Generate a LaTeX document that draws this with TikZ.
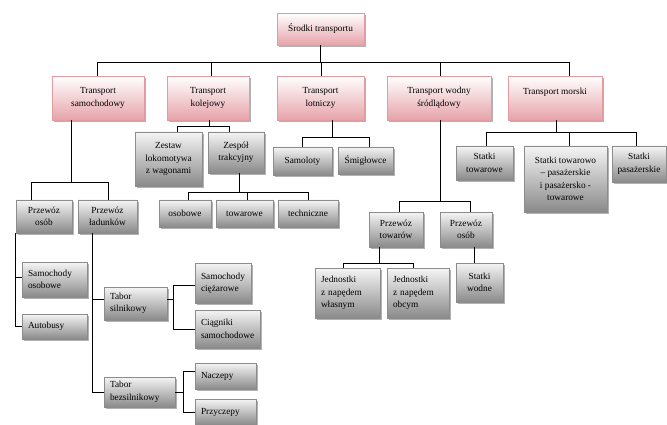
\documentclass[tikz,border=0pt]{standalone}
\usepackage{fontspec}
\setmainfont{Liberation Serif}
\usetikzlibrary{shadows}
\definecolor{pinkB}{HTML}{E6A3A9}
\definecolor{pinkD}{HTML}{E39BA2}
\definecolor{grayB}{HTML}{8A8A8A}
\definecolor{grayD}{HTML}{8C8C8C}
\tikzset{
  box/.style={rectangle, align=center, inner sep=2pt, font=\fontsize{9.3}{12.5}\selectfont,
    drop shadow={shadow xshift=2pt, shadow yshift=-2pt, fill=black, opacity=0.3}},
  pbox/.style={box, draw=pinkD, line width=0.6pt, top color=white, bottom color=pinkB},
  gbox/.style={box, draw=grayD, line width=0.6pt, top color=white!96!black, bottom color=grayB},
  lt/.style={align=left, inner xsep=6pt, text width=#1},
  conn/.style={draw=black, line width=0.7pt}
}
\begin{document}
\begin{tikzpicture}[x=1pt, y=-1pt]
\useasboundingbox (0,0) rectangle (667,425);
% level 0
\node[pbox, minimum width=87, minimum height=32] (root) at (320.5,29) {Środki transportu};
% level 1
\node[pbox, minimum width=92, minimum height=44] (s1) at (98,98) {Transport\\samochodowy};
\node[pbox, minimum width=82, minimum height=44] (s2) at (208,98) {Transport\\kolejowy};
\node[pbox, minimum width=87, minimum height=44] (s3) at (320.5,98) {Transport\\lotniczy};
\node[pbox, minimum width=104, minimum height=44] (s4) at (439,98) {Transport wodny\\śródlądowy};
\node[pbox, minimum width=94, minimum height=44] (s5) at (555,98) {Transport morski\\\phantom{T}};
% kolejowy
\node[gbox, minimum width=67, minimum height=54] (k1) at (168.5,159) {Zestaw\\lokomotywa\\z wagonami};
\node[gbox, minimum width=56, minimum height=41] (k2) at (236,152.5) {Zespół\\trakcyjny};
\node[gbox, minimum width=52, minimum height=27] (k3) at (185,213.5) {osobowe};
\node[gbox, minimum width=57, minimum height=27] (k4) at (244.5,213.5) {towarowe};
\node[gbox, minimum width=60, minimum height=27] (k5) at (308,213.5) {techniczne};
% lotniczy
\node[gbox, minimum width=59, minimum height=28] (l1) at (302.5,161) {Samoloty};
\node[gbox, minimum width=55, minimum height=27] (l2) at (365.5,160.5) {Śmigłowce};
% morski
\node[gbox, minimum width=57, minimum height=34] (m1) at (484.5,163) {Statki\\towarowe};
\node[gbox, minimum width=83, minimum height=66] (m2) at (565.5,179) {Statki towarowo\\– pasażerskie\\i pasażersko -\\towarowe};
\node[gbox, minimum width=54, minimum height=36] (m3) at (639,164) {Statki\\pasażerskie};
% wodny
\node[gbox, minimum width=54, minimum height=35] (w1) at (396,229.5) {Przewóz\\towarów};
\node[gbox, minimum width=52, minimum height=35] (w2) at (466,229.5) {Przewóz\\osób};
\node[gbox, lt=53pt, minimum height=50] (j1) at (347.5,293) {Jednostki\\z napędem\\własnym};
\node[gbox, lt=50pt, minimum height=50] (j2) at (418,293) {Jednostki\\z napędem\\obcym};
\node[gbox, minimum width=47, minimum height=39] (sw) at (479.5,282.5) {Statki\\wodne};
% samochodowy
\node[gbox, minimum width=56, minimum height=33] (p1) at (44,216.5) {Przewóz\\osób};
\node[gbox, minimum width=59, minimum height=33] (p2) at (107.5,216.5) {Przewóz\\ładunków};
\node[gbox, lt=53pt, minimum height=35] (q1) at (54.5,279.5) {Samochody\\osobowe};
\node[gbox, lt=53pt, minimum height=25] (q2) at (54.5,326.5) {Autobusy};
\node[gbox, lt=51pt, minimum height=33] (t1) at (135.5,303.5) {Tabor\\silnikowy};
\node[gbox, lt=59pt, minimum height=30] (t2) at (139.5,392) {Tabor\\bezsilnikowy};
\node[gbox, lt=44pt, minimum height=40] (c1) at (223,283) {Samochody\\ciężarowe};
\node[gbox, lt=53pt, minimum height=38] (c2) at (227.5,329) {Ciągniki\\samochodowe};
\node[gbox, lt=49pt, minimum height=26] (n1) at (225.5,376) {Naczepy};
\node[gbox, lt=49pt, minimum height=26] (n2) at (225.5,412) {Przyczepy};
% connectors level 0 -> 1
\draw[conn] (root.south) -- ++(0,17) -| ([xshift=-1pt]s1.north);
\draw[conn] (root.south) -- ++(0,17) -| ([xshift=3pt]s2.north);
\draw[conn] (root.south) -- ++(0,17) -| ([xshift=0.5pt]s3.north);
\draw[conn] (root.south) -- ++(0,17) -| ([xshift=1pt]s4.north);
\draw[conn] (root.south) -- ++(0,17) -| ([xshift=14pt]s5.north);
% samochodowy
\draw[conn] ([xshift=-27pt]s1.south) -- ++(0,62) -| ([xshift=-13pt]p1.north);
\draw[conn] ([xshift=-27pt]s1.south) -- ++(0,62) -| ([xshift=0.5pt]p2.north);
\draw[conn] (p1.south west) |- ([yshift=2pt]q1.west);
\draw[conn] (p1.south west) |- (q2.west);
\draw[conn] ([xshift=-15.5pt]p2.south) |- ([yshift=4pt]t1.west);
\draw[conn] ([xshift=-15.5pt]p2.south) |- (t2.west);
\draw[conn] ([yshift=4pt]t1.east) -- ++(6,0) |- ([yshift=-2pt]c1.west);
\draw[conn] ([yshift=4pt]t1.east) -- ++(6,0) |- (c2.west);
\draw[conn] (t2.east) -- ++(8,0) |- ([yshift=5pt]n1.west);
\draw[conn] (t2.east) -- ++(8,0) |- (n2.west);
% kolejowy
\draw[conn] ([xshift=1pt]s2.south) -- ++(0,6) -| ([xshift=9pt]k1.north);
\draw[conn] ([xshift=1pt]s2.south) -- ++(0,6) -| ([xshift=-7pt]k2.north);
\draw[conn] ([xshift=3pt]k2.south) -- ++(0,19) -| ([xshift=3pt]k3.north);
\draw[conn] ([xshift=3pt]k2.south) -- ++(0,19) -| ([xshift=2.5pt]k4.north);
\draw[conn] ([xshift=3pt]k2.south) -- ++(0,19) -| (k5.north);
% lotniczy
\draw[conn] ([xshift=11.5pt]s3.south) -- ++(0,17) -| ([xshift=-0.5pt]l1.north);
\draw[conn] ([xshift=11.5pt]s3.south) -- ++(0,17) -| ([xshift=3.5pt]l2.north);
% wodny
\draw[conn] ([xshift=1pt]s4.south) -- ++(0,81) -| ([xshift=3pt]w1.north);
\draw[conn] ([xshift=1pt]s4.south) -- ++(0,81) -| ([xshift=4pt]w2.north);
\draw[conn] ([xshift=-17pt]w1.south) -- ++(0,16) -| ([xshift=-4.5pt]j1.north);
\draw[conn] ([xshift=-17pt]w1.south) -- ++(0,16) -| ([xshift=-5pt]j2.north);
\draw[conn] ([xshift=8pt]w2.south) -- ([xshift=-5.5pt]sw.north);
% morski
\draw[conn] ([xshift=1pt]s5.south) -- ++(0,12) -| ([xshift=1.5pt]m1.north);
\draw[conn] ([xshift=1pt]s5.south) -- ++(0,12) -| ([xshift=3.5pt]m2.north);
\draw[conn] ([xshift=1pt]s5.south) -- ++(0,12) -| ([xshift=-2.5pt]m3.north);
\end{tikzpicture}
\end{document}
